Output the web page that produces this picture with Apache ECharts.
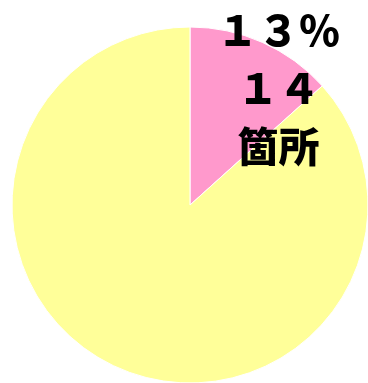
<!DOCTYPE html>
<html><head><meta charset="utf-8">
<script src="https://cdn.jsdelivr.net/npm/echarts@6/dist/echarts.min.js"></script>
<style>html,body{margin:0;padding:0;background:#fff}#c{width:368px;height:383px}</style>
</head><body><div id="c"></div>
<script>
const categories = ['該当', 'その他'];
const values = [14, 91];
const labelTexts = ['１３％\n１４\n箇所', ''];
const colors = ['#ff99cc', '#ffff99'];

const chart = echarts.init(document.getElementById('c'));
chart.setOption({
  animation: false,
  series: [{
    type: 'pie',
    center: [190, 205],
    radius: [0, 178],
    startAngle: 90,
    clockwise: true,
    silent: true,
    labelLine: { show: false },
    itemStyle: { borderColor: '#ffffff', borderWidth: 1 },
    data: categories.map((c, i) => ({
      name: c,
      value: values[i],
      itemStyle: { color: colors[i] },
      label: {
        show: labelTexts[i] !== '',
        position: 'inside',
        formatter: labelTexts[i],
        offset: [51, -33],
        color: '#000',
        fontSize: 41,
        fontWeight: 900,
        fontFamily: '"Noto Sans CJK JP", sans-serif',
        lineHeight: 58,
        align: 'center'
      }
    }))
  }]
});
</script></body></html>
